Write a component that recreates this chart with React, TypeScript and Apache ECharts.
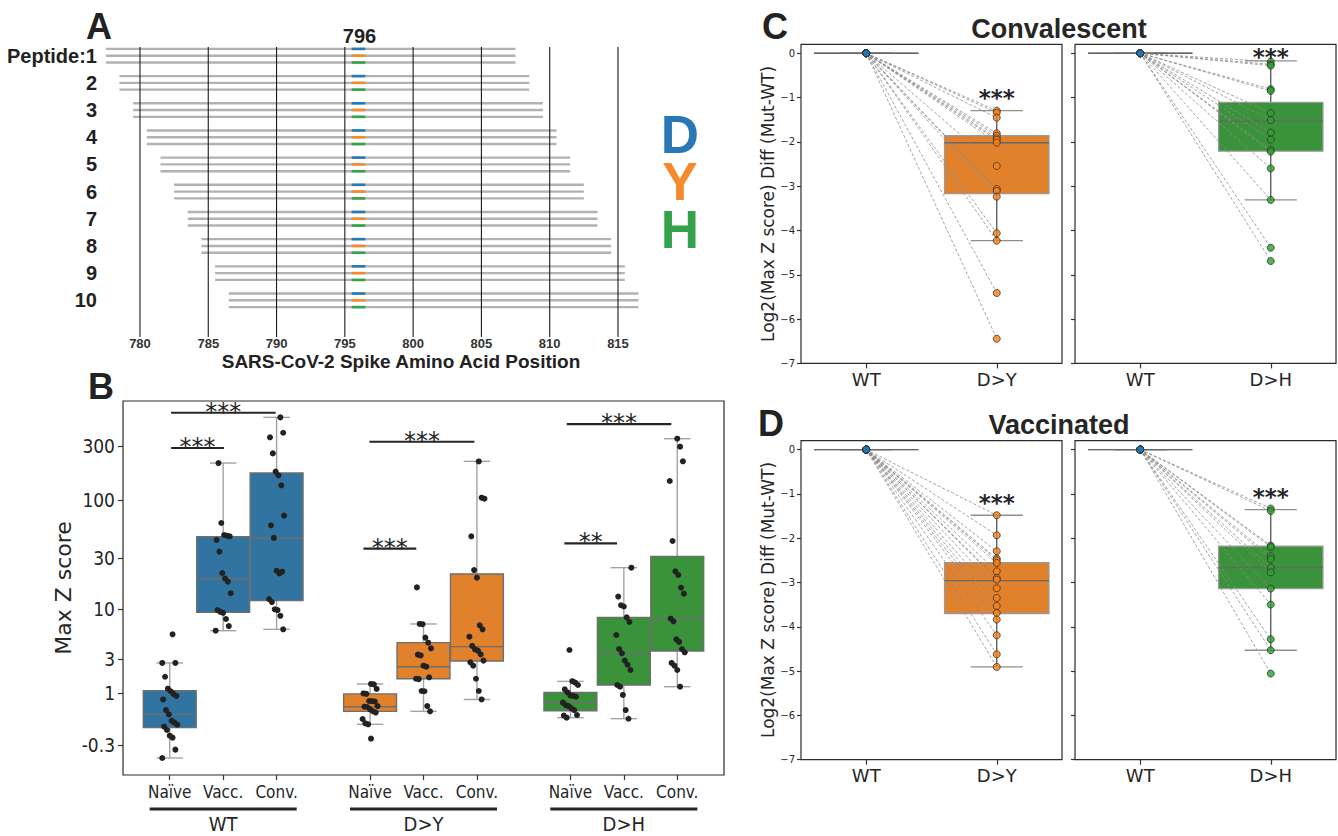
import React, { useEffect, useRef } from 'react';
import * as echarts from 'echarts';

// ---------- Panel A ----------
const peptideIds = [1, 2, 3, 4, 5, 6, 7, 8, 9, 10];
const peptideStart = [778, 779, 780, 781, 782, 783, 784, 785, 786, 787];
const peptideEnd = [807, 808, 809, 810, 811, 812, 813, 814, 815, 816];
const mutationPos = 796;
const positionTicks = [780, 785, 790, 795, 800, 805, 810, 815];
const variantLetters = ['D', 'Y', 'H'];

// ---------- Panel B ----------
const groupNames = ['WT', 'D>Y', 'D>H'];
const cohortNames = ['Naïve', 'Vacc.', 'Conv.'];
const zTickLabels = [300, 100, 30, 10, 3, 1, -0.3];

const wtNaive = [5.6, 2.69, 2.69, 1.79, 1.19, 1.08, 0.97, 0.89, 0.76, 0.42, 0.3, 0.14, 0.1, 0.055, 0.013, -0.053, -0.156, -0.189, -0.364, -0.463];
const wtVacc = [212, 62.1, 48.5, 47.8, 47.2, 43.7, 34.3, 21.9, 19.5, 18.2, 14.2, 9.8, 9.4, 9.2, 8.0, 6.8, 6.1];
const wtConv = [537, 393, 358, 258, 178, 165, 134.5, 72.3, 59.2, 45.6, 23.0, 21.7, 22.5, 12.5, 11.7, 9.96, 9.8, 8.6, 6.3];
const dyNaive = [1.41, 1.39, 1.18, 0.99, 0.97, 0.706, 0.7, 0.69, 0.54, 0.52, 0.51, 0.44, 0.385, 0.35, 0.184, 0.084, 0.063, -0.205];
const dyVacc = [16.1, 7.14, 7.1, 5.17, 4.57, 3.97, 3.37, 3.3, 2.49, 2.42, 1.76, 1.68, 1.66, 1.09, 1.08, 0.54, 0.383];
const dyConv = [219, 104.5, 102.4, 47.2, 23.3, 19.8, 6.92, 6.3, 5.29, 4.21, 3.86, 3.74, 3.4, 2.87, 2.74, 2.49, 1.68, 1.09, 0.76];
const dhNaive = [3.8, 1.55, 1.48, 1.36, 1.16, 1.03, 0.91, 0.89, 0.86, 0.65, 0.57, 0.54, 0.47, 0.42, 0.284, 0.27, 0.216];
const dhVacc = [24.5, 13.2, 10.9, 10.6, 8.3, 7.47, 5.51, 3.9, 3.49, 2.87, 2.56, 2.2, 1.36, 1.28, 0.93, 0.42, 0.19];
const dhConv = [348, 296, 219.5, 147, 42.8, 22.7, 21.0, 16.0, 14.05, 8.06, 7.59, 4.96, 4.65, 3.9, 3.58, 2.69, 2.49, 2.2, 1.28];

// box stats [min, Q1, median, Q3, max]
const wtNaiveBox = [-0.463, -0.007, 0.3, 1.1, 2.69];
const wtVaccBox = [6.1, 9.3, 19.4, 46.8, 212];
const wtConvBox = [6.3, 12.06, 45.6, 173, 537];
const dyNaiveBox = [0.063, 0.383, 0.52, 0.97, 1.41];
const dyVaccBox = [0.383, 1.68, 2.42, 4.57, 7.14];
const dyConvBox = [0.76, 2.84, 4.14, 21.4, 219.5];
const dhNaiveBox = [0.216, 0.4, 0.63, 1.03, 1.54];
const dhVaccBox = [0.192, 1.36, 3.49, 8.31, 24.5];
const dhConvBox = [1.28, 3.71, 8.06, 31.1, 348];

const sigFrom = [-0.26, -0.26, 0.73, 0.7, 1.715, 1.703];
const sigTo = [0.262, 0.004, 1.254, 0.964, 2.237, 1.966];
const sigZ = [590, 288, 327, 36.5, 469, 40.8];
const sigText = ['***', '***', '***', '***', '***', '**'];

// ---------- Panels C / D ----------
const convDY = [-1.296, -1.341, -1.454, -1.806, -1.86, -1.919, -1.957, -2.018, -2.544, -3.063, -3.108, -3.237, -4.063, -4.23, -5.411, -6.442];
const convDH = [-0.19, -0.25, -0.28, -0.81, -0.85, -1.35, -1.51, -1.79, -1.95, -2.18, -2.22, -2.6, -3.31, -4.39, -4.69];
const vaccDY = [-1.483, -1.935, -2.296, -2.46, -2.499, -2.559, -2.747, -2.898, -2.935, -3.131, -3.35, -3.53, -3.688, -3.837, -4.192, -4.621, -4.907];
const vaccDH = [-1.33, -1.386, -2.167, -2.2, -2.409, -2.47, -2.664, -2.77, -3.138, -3.499, -4.282, -4.53, -5.056];
const convDYBox = [-4.23, -3.17, -2.02, -1.86, -1.296];
const convDHBox = [-3.31, -2.21, -1.53, -1.11, -0.17];
const vaccDYBox = [-4.907, -3.7, -2.96, -2.55, -1.483];
const vaccDHBox = [-4.53, -3.14, -2.66, -2.18, -1.354];
const wtDiffBox = [0, 0, 0, 0, 0];
const starY = [-0.9, 0.036, -1.1, -0.96];
const diffTicks = [-7, -6, -5, -4, -3, -2, -1, 0];

// ---------- styling ----------
const boxColors = ['#3274a1', '#e1812c', '#3a923a'];
const dotColors = ['#1f77b4', '#ff7f0e', '#2ca02c'];
const letterColors = ['#2878b8', '#f5892b', '#34a24a'];
const FONT_C = "'DejaVu Sans Condensed', 'DejaVu Sans', sans-serif";
const FONT_D = "'DejaVu Sans', sans-serif";
const FONT_L = "'Liberation Sans', Arial, sans-serif";
const TXT = '#262626';

const T = (z: number) => Math.log10(1 + z);
const HUE = 0.8 / 3;
const bPos = (c: number, h: number) => c + (h - 1) * HUE;
const jitter = (i: number) => ((((i * 37 + 11) % 17) / 16) - 0.5) * 0.075;
const A_YMIN = 0.68, A_YMAX = 11.35;
const B_YMIN = -0.42, B_YMAX = 2.875;
const NO_LINE = { show: false, onZero: false };

const line = (x1: number, y1: number, x2: number, y2: number, stroke: string, lw: number, dash?: number[]) => ({
  type: 'line', shape: { x1, y1, x2, y2 }, style: { stroke, lineWidth: lw, lineDash: dash },
});

const makeBoxRender = (wUnits: number, st: { edge: string; whisker: string; cap: string; median: string; lw: number }) =>
  (params: any, api: any) => {
    const x = api.value(0);
    const lo = api.value(1), q1 = api.value(2), med = api.value(3), q3 = api.value(4), hi = api.value(5);
    const ci = api.value(6);
    const w = api.size([wUnits, 0])[0];
    const pq1 = api.coord([x, q1]), pq3 = api.coord([x, q3]), pm = api.coord([x, med]);
    const plo = api.coord([x, lo]), phi = api.coord([x, hi]);
    const cx = pq1[0];
    return {
      type: 'group',
      children: [
        line(cx, pq1[1], cx, plo[1], st.whisker, st.lw),
        line(cx, pq3[1], cx, phi[1], st.whisker, st.lw),
        line(cx - w / 4, plo[1], cx + w / 4, plo[1], st.cap, st.lw),
        line(cx - w / 4, phi[1], cx + w / 4, phi[1], st.cap, st.lw),
        { type: 'rect', shape: { x: cx - w / 2, y: pq3[1], width: w, height: pq1[1] - pq3[1] }, style: { fill: boxColors[ci], stroke: st.edge, lineWidth: st.lw } },
        line(cx - w / 2, pm[1], cx + w / 2, pm[1], st.median, st.lw),
      ],
    };
  };

function buildOption() {
  const grids: any[] = [
    { left: 99, top: 47, width: 546.3, height: 290, show: false },
    { left: 123, top: 401, width: 601, height: 374, show: true, borderColor: '#2b2b2b', borderWidth: 1.2 },
    { left: 801, top: 44.4, width: 261, height: 319, show: true, borderColor: '#2b2b2b', borderWidth: 1.2 },
    { left: 1075, top: 44.4, width: 261, height: 319, show: true, borderColor: '#2b2b2b', borderWidth: 1.2 },
    { left: 801, top: 440.7, width: 261, height: 319, show: true, borderColor: '#2b2b2b', borderWidth: 1.2 },
    { left: 1075, top: 440.7, width: 261, height: 319, show: true, borderColor: '#2b2b2b', borderWidth: 1.2 },
  ];

  const bTickPos: number[] = [];
  for (let c = 0; c < 3; c++) for (let h = 0; h < 3; h++) bTickPos.push(bPos(c, h));
  const bYTicks = zTickLabels.map(T);
  const nearestIdx = (arr: number[], v: number) => {
    let bi = 0;
    arr.forEach((a, i) => { if (Math.abs(a - v) < Math.abs(arr[bi] - v)) bi = i; });
    return bi;
  };

  const xAxis: any[] = [
    {
      gridIndex: 0, type: 'value', min: 777, max: 817,
      axisLine: NO_LINE, axisTick: { show: false }, splitLine: { show: false },
      axisLabel: { customValues: positionTicks, margin: 0, fontFamily: FONT_L, fontWeight: 'bold', fontSize: 13, color: '#333' },
    },
    {
      gridIndex: 1, type: 'value', min: -0.5, max: 2.5,
      axisLine: NO_LINE, splitLine: { show: false },
      axisTick: { show: true, customValues: bTickPos, length: 5, lineStyle: { color: '#333', width: 1.2 } },
      axisLabel: {
        customValues: bTickPos, margin: 8, fontFamily: FONT_C, fontSize: 17, color: TXT,
        formatter: (v: number) => cohortNames[nearestIdx(bTickPos, v) % 3],
      },
    },
  ];
  const yAxis: any[] = [
    {
      gridIndex: 0, type: 'value', inverse: true, min: A_YMIN, max: A_YMAX,
      axisLine: NO_LINE, axisTick: { show: false }, splitLine: { show: false },
      axisLabel: {
        customValues: peptideIds, margin: 2, fontFamily: FONT_L, fontWeight: 'bold', fontSize: 20, color: '#222',
        formatter: (v: number) => (Math.round(v) === 1 ? 'Peptide:1' : String(Math.round(v))),
      },
    },
    {
      gridIndex: 1, type: 'value', min: B_YMIN, max: B_YMAX,
      axisLine: NO_LINE, splitLine: { show: false },
      axisTick: { show: true, customValues: bYTicks, length: 5, lineStyle: { color: '#333', width: 1.2 } },
      axisLabel: {
        customValues: bYTicks, margin: 8, fontFamily: FONT_C, fontSize: 19, color: TXT,
        formatter: (v: number) => String(zTickLabels[nearestIdx(bYTicks, v)]),
      },
    },
  ];

  const subplots = [
    { vals: convDY, box: convDYBox, ci: 1, mut: 'D>Y', star: starY[0], showY: true },
    { vals: convDH, box: convDHBox, ci: 2, mut: 'D>H', star: starY[1], showY: false },
    { vals: vaccDY, box: vaccDYBox, ci: 1, mut: 'D>Y', star: starY[2], showY: true },
    { vals: vaccDH, box: vaccDHBox, ci: 2, mut: 'D>H', star: starY[3], showY: false },
  ];
  subplots.forEach((sp, i) => {
    xAxis.push({
      gridIndex: 2 + i, type: 'value', min: -0.5, max: 1.5,
      axisLine: NO_LINE, splitLine: { show: false },
      axisTick: { show: true, customValues: [0, 1], length: 5, lineStyle: { color: '#333', width: 1.2 } },
      axisLabel: {
        customValues: [0, 1], margin: 7, fontFamily: FONT_D, fontSize: 18, color: TXT,
        formatter: (v: number) => (v < 0.5 ? 'WT' : sp.mut),
      },
    });
    yAxis.push({
      gridIndex: 2 + i, type: 'value', min: -7, max: 0.2,
      axisLine: NO_LINE, splitLine: { show: false },
      axisTick: { show: true, customValues: diffTicks, length: 4, lineStyle: { color: '#333', width: 1.2 } },
      axisLabel: {
        show: sp.showY, customValues: diffTicks, margin: 6, fontFamily: FONT_D, fontSize: 10, color: TXT,
        formatter: (v: number) => (v < 0 ? '\u2212' + Math.abs(Math.round(v)) : String(Math.round(v))),
      },
    });
  });

  const series: any[] = [];

  // ---- A ----
  const pepData: number[][] = [];
  peptideIds.forEach((k, i) => {
    for (let v = 0; v < 3; v++) pepData.push([peptideStart[i], peptideEnd[i], k + (v - 1) * 0.25, v]);
  });
  series.push({
    type: 'custom', xAxisIndex: 0, yAxisIndex: 0, z: 2, data: pepData,
    renderItem: (params: any, api: any) => {
      const s = api.value(0), e = api.value(1), y = api.value(2), vi = api.value(3);
      const p1 = api.coord([s - 0.5, y]), p2 = api.coord([e + 0.5, y]);
      const m1 = api.coord([mutationPos - 0.5, y]), m2 = api.coord([mutationPos + 0.5, y]);
      return {
        type: 'group', children: [
          line(p1[0], p1[1], p2[0], p2[1], '#b2b2b2', 2.4),
          line(m1[0], m1[1], m2[0], m2[1], letterColors[vi], 2.6),
        ],
      };
    },
  });
  series.push({
    type: 'custom', xAxisIndex: 0, yAxisIndex: 0, z: 3, data: positionTicks.map((p) => [p, A_YMIN]),
    renderItem: (params: any, api: any) => {
      const a = api.coord([api.value(0), A_YMIN]), b = api.coord([api.value(0), A_YMAX]);
      return line(a[0], a[1], b[0], b[1], '#1a1a1a', 1.1);
    },
  });
  series.push({
    type: 'custom', xAxisIndex: 0, yAxisIndex: 0, z: 3, clip: false, data: [[mutationPos, A_YMIN]],
    renderItem: (params: any, api: any) => {
      const p = api.coord([api.value(0), A_YMIN]);
      return {
        type: 'text', x: p[0] + 1, y: p[1] - 11,
        style: { text: String(mutationPos), fill: '#222', font: `bold 20px ${FONT_L}`, textAlign: 'center', textVerticalAlign: 'middle', verticalAlign: 'middle' },
      };
    },
  });

  // ---- B ----
  const bPoints = [[wtNaive, wtVacc, wtConv], [dyNaive, dyVacc, dyConv], [dhNaive, dhVacc, dhConv]];
  const bBoxes = [[wtNaiveBox, wtVaccBox, wtConvBox], [dyNaiveBox, dyVaccBox, dyConvBox], [dhNaiveBox, dhVaccBox, dhConvBox]];
  const bBoxData: number[][] = [];
  const bScatter: number[][] = [];
  for (let c = 0; c < 3; c++) {
    for (let h = 0; h < 3; h++) {
      bBoxData.push([bPos(c, h), ...bBoxes[c][h].map(T), c]);
      bPoints[c][h].forEach((z, i) => bScatter.push([bPos(c, h) + jitter(i + c * 5 + h * 3), T(z)]));
    }
  }
  series.push({
    type: 'custom', xAxisIndex: 1, yAxisIndex: 1, z: 2, data: bBoxData,
    renderItem: makeBoxRender(HUE * 0.99, { edge: '#6e6e6e', whisker: '#a3a3a3', cap: '#a3a3a3', median: '#6e6e6e', lw: 1.4 }),
  });
  series.push({
    type: 'scatter', xAxisIndex: 1, yAxisIndex: 1, z: 4, symbolSize: 6, data: bScatter,
    itemStyle: { color: '#222', opacity: 1 },
  });
  series.push({
    type: 'custom', xAxisIndex: 1, yAxisIndex: 1, z: 5, clip: false,
    data: sigFrom.map((f, i) => [f, T(sigZ[i]), sigTo[i], i]),
    renderItem: (params: any, api: any) => {
      const a = api.coord([api.value(0), api.value(1)]);
      const b = api.coord([api.value(2), api.value(1)]);
      const i = api.value(3);
      return {
        type: 'group', children: [
          line(a[0], a[1], b[0], b[1], '#262626', 2.2),
          { type: 'text', x: (a[0] + b[0]) / 2, y: a[1] - 1, style: { text: sigText[i], fill: '#262626', font: `24px ${FONT_D}`, textAlign: 'center', textVerticalAlign: 'middle', verticalAlign: 'middle' } },
        ],
      };
    },
  });
  series.push({
    type: 'custom', xAxisIndex: 1, yAxisIndex: 1, z: 5, clip: false,
    data: groupNames.map((g, c) => [c, B_YMIN]),
    renderItem: (params: any, api: any) => {
      const c = api.value(0);
      const l = api.coord([c - 0.367, B_YMIN]), r = api.coord([c + 0.367, B_YMIN]);
      return {
        type: 'group', children: [
          line(l[0], l[1] + 34, r[0], r[1] + 34, '#262626', 3.2),
          { type: 'text', x: (l[0] + r[0]) / 2, y: l[1] + 49, style: { text: groupNames[c], fill: '#262626', font: `20px ${FONT_C}`, textAlign: 'center', textVerticalAlign: 'middle', verticalAlign: 'middle' } },
        ],
      };
    },
  });

  // ---- C / D ----
  subplots.forEach((sp, i) => {
    const ax = 2 + i;
    series.push({
      type: 'custom', xAxisIndex: ax, yAxisIndex: ax, z: 2,
      data: [[0, ...wtDiffBox, 0], [1, ...sp.box, sp.ci]],
      renderItem: makeBoxRender(0.8, { edge: '#9a9a9a', whisker: '#555', cap: '#8f8f8f', median: '#666', lw: 1.3 }),
    });
    series.push({
      type: 'custom', xAxisIndex: ax, yAxisIndex: ax, z: 3,
      data: sp.vals.map((v) => [1, v]),
      renderItem: (params: any, api: any) => {
        const a = api.coord([0, 0]), b = api.coord([1, api.value(1)]);
        return line(a[0], a[1], b[0], b[1], '#8a8a8a', 0.8, [3, 2]);
      },
    });
    series.push({
      type: 'scatter', xAxisIndex: ax, yAxisIndex: ax, z: 4, symbolSize: 7,
      data: sp.vals.map(() => [0, 0]),
      itemStyle: { color: dotColors[0], borderColor: '#333', borderWidth: 1 },
    });
    series.push({
      type: 'scatter', xAxisIndex: ax, yAxisIndex: ax, z: 4, symbolSize: 7,
      data: sp.vals.map((v) => [1, v]),
      itemStyle: { color: dotColors[sp.ci], borderColor: '#333', borderWidth: 1 },
    });
    series.push({
      type: 'custom', xAxisIndex: ax, yAxisIndex: ax, z: 5, clip: false,
      data: [[1, sp.star]],
      renderItem: (params: any, api: any) => {
        const p = api.coord([1, api.value(1)]);
        return { type: 'text', x: p[0], y: p[1] + 5, style: { text: '***', fill: '#262626', font: `bold 23px ${FONT_D}`, textAlign: 'center', textVerticalAlign: 'middle', verticalAlign: 'middle' } };
      },
    });
  });

  const txt = (x: number, y: number, text: string, font: string, fill = '#222', extra: any = {}) => ({
    type: 'text', x, y, ...extra,
    style: { text, font, fill, textAlign: extra.align || 'center', textVerticalAlign: 'middle', verticalAlign: 'middle' },
  });

  const keys = ['d', 'y', 'h'];
  const rich: any = {};
  keys.forEach((k, i) => {
    rich[k] = { fill: letterColors[i], fontSize: 53, fontWeight: 'bold', fontFamily: FONT_L, lineHeight: 47.5, align: 'center', verticalAlign: 'middle' };
  });

  const graphic: any[] = [
    txt(86, 26, 'A', `bold 36px ${FONT_L}`, '#222', { align: 'left' }),
    txt(88, 386, 'B', `bold 36px ${FONT_L}`, '#222', { align: 'left' }),
    txt(762, 26, 'C', `bold 36px ${FONT_L}`, '#222', { align: 'left' }),
    txt(758, 423, 'D', `bold 36px ${FONT_L}`, '#222', { align: 'left' }),
    txt(401, 361, 'SARS-CoV-2 Spike Amino Acid Position', `bold 19px ${FONT_L}`, '#222'),
    txt(1059, 29, 'Convalescent', `bold 27px ${FONT_L}`, TXT),
    txt(1059, 425, 'Vaccinated', `bold 27px ${FONT_L}`, TXT),
    txt(63, 588, 'Max Z score', `22px ${FONT_D}`, TXT, { rotation: Math.PI / 2 }),
    txt(768, 204, 'Log2(Max Z score) Diff (Mut-WT)', `17px ${FONT_D}`, TXT, { rotation: Math.PI / 2 }),
    txt(768, 600, 'Log2(Max Z score) Diff (Mut-WT)', `17px ${FONT_D}`, TXT, { rotation: Math.PI / 2 }),
    {
      type: 'text', x: 680, y: 181.5,
      style: {
        text: variantLetters.map((l, i) => `{${keys[i]}|${l}}`).join('\n'),
        rich, textAlign: 'center', textVerticalAlign: 'middle', verticalAlign: 'middle',
      },
    },
  ];

  return { animation: false, backgroundColor: '#fff', grid: grids, xAxis, yAxis, series, graphic };
}

export default function App() {
  const ref = useRef<HTMLDivElement>(null);
  useEffect(() => {
    if (!ref.current) return;
    const chart = echarts.init(ref.current, undefined, { renderer: 'svg' });
    chart.setOption(buildOption() as any);
    return () => chart.dispose();
  }, []);
  return <div ref={ref} style={{ position: 'fixed', left: 0, top: 0, width: 1338, height: 836, background: '#fff' }} />;
}
